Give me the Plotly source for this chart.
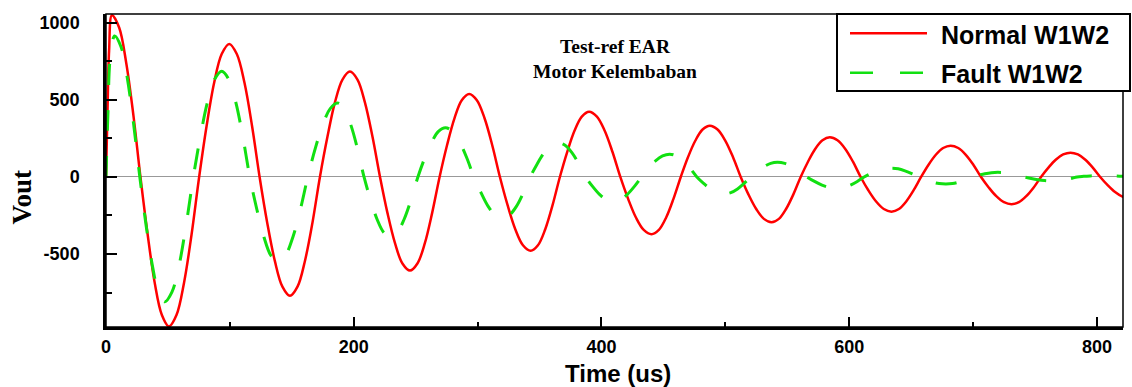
import plotly.graph_objects as go

# ---- data (time in us, Vout) ----
normal_t = [0, 1.2, 2.5, 4.8,
            10.6, 16.3, 22.1, 27.8, 33.6, 39.3, 45.1, 50.8,
            56.9, 63.0, 69.1, 75.2, 81.2, 87.3, 93.4, 99.5,
            105.6, 111.8, 117.9, 124.0, 130.1, 136.3, 142.4, 148.5,
            154.6, 160.6, 166.7, 172.7, 178.8, 184.8, 190.9, 196.9,
            203.0, 209.0, 215.1, 221.2, 227.2, 233.3, 239.3, 245.4,
            251.4, 257.4, 263.3, 269.3, 275.3, 281.3, 287.2, 293.2,
            299.4, 305.6, 311.8, 318.0, 324.2, 330.4, 336.6, 342.8,
            348.7, 354.6, 360.5, 366.4, 372.3, 378.2, 384.1, 390.0,
            396.3, 402.6, 408.9, 415.2, 421.5, 427.8, 434.1, 440.4,
            446.3, 452.2, 458.1, 464.0, 469.8, 475.7, 481.6, 487.5,
            493.7, 500.0, 506.2, 512.4, 518.6, 524.9, 531.1, 537.3,
            543.2, 549.0, 554.9, 560.8, 566.7, 572.5, 578.4, 584.3,
            590.5, 596.8, 603.0, 609.2, 615.4, 621.7, 627.9, 634.1,
            640.1, 646.0, 652.0, 658.0, 663.9, 669.9, 675.8, 681.8,
            688.0, 694.1, 700.3, 706.4, 712.6, 718.7, 724.9, 731.0,
            737.0, 742.9, 748.9, 754.8, 760.8, 766.7, 772.7, 778.6,
            784.6, 790.6, 796.6, 802.6, 808.6, 814.6, 820.6, 826.6]
normal_v = [0, 420, 820, 1050,
            970, 742, 402, 0, -372, -686, -896, -970,
            -896, -686, -372, 0, 331, 611, 798, 864,
            798, 611, 331, 0, -295, -545, -712, -771,
            -712, -545, -295, 0, 262, 484, 632, 684,
            632, 484, 262, 0, -233, -430, -562, -608,
            -562, -430, -233, 0, 206, 381, 498, 539,
            498, 381, 206, 0, -183, -339, -443, -479,
            -443, -339, -183, 0, 162, 300, 392, 424,
            392, 300, 162, 0, -142, -263, -344, -372,
            -344, -263, -142, 0, 128, 235, 308, 333,
            308, 235, 128, 0, -113, -208, -272, -294,
            -272, -208, -113, 0, 99, 182, 238, 258,
            238, 182, 99, 0, -86, -159, -208, -225,
            -208, -159, -86, 0, 78, 144, 188, 203,
            188, 144, 78, 0, -68, -125, -164, -177,
            -164, -125, -68, 0, 61, 112, 146, 158,
            146, 112, 61, 0, -53, -98, -128, -138]

fault_t = [0, 1.5, 3.5, 7.0,
           12.1, 17.1, 22.2, 27.3, 32.3, 37.4, 42.4, 47.5,
           53.2, 59.0, 64.7, 70.5, 76.2, 81.9, 87.7, 93.4,
           99.1, 104.8, 110.4, 116.1, 121.8, 127.5, 133.1, 138.8,
           144.8, 150.9, 156.9, 162.9, 168.9, 175.0, 181.0, 187.0,
           192.3, 197.6, 203.0, 208.3, 213.6, 218.9, 224.2, 229.5,
           235.1, 240.6, 246.2, 251.8, 257.3, 262.9, 268.4, 274.0,
           279.8, 285.5, 291.3, 297.0, 302.8, 308.5, 314.3, 320.0,
           325.6, 331.3, 336.9, 342.5, 348.1, 353.8, 359.4, 365.0,
           370.6, 376.1, 381.7, 387.3, 392.8, 398.4, 403.9, 409.5,
           415.2, 420.9, 426.6, 432.3, 437.9, 443.6, 449.3, 455.0,
           460.5, 466.0, 471.5, 477.0, 482.5, 488.0, 493.5, 499.0,
           504.4, 509.8, 515.1, 520.5, 525.9, 531.3, 536.6, 542.0,
           548.0, 554.0, 560.0, 566.0, 572.0, 578.0, 584.0, 590.0,
           595.5, 601.0, 606.5, 612.0, 617.5, 623.0, 628.5, 634.0,
           639.5, 645.0, 650.5, 656.0, 661.5, 667.0, 672.5, 678.0,
           683.3, 688.5, 693.8, 699.0, 704.3, 709.5, 714.8, 720.0,
           725.4, 730.8, 736.1, 741.5, 746.9, 752.3, 757.6, 763.0,
           768.3, 773.5, 778.8, 784.0, 789.3, 794.5, 799.8, 805.0,
           815.8, 826.5]
fault_v = [0, 400, 780, 915,
           845, 647, 350, 0, -310, -573, -748, -810,
           -748, -573, -310, 0, 263, 485, 634, 686,
           634, 485, 263, 0, -211, -390, -510, -552,
           -510, -390, -211, 0, 184, 339, 444, 480,
           444, 339, 184, 0, -149, -276, -360, -390,
           -360, -276, -149, 0, 123, 226, 296, 320,
           296, 226, 123, 0, -103, -191, -249, -270,
           -249, -191, -103, 0, 85, 158, 206, 223,
           206, 158, 85, 0, -61, -113, -148, -160,
           -148, -113, -61, 0, 57, 105, 137, 148,
           137, 105, 57, 0, -42, -78, -102, -110,
           -102, -78, -42, 0, 36, 67, 88, 95,
           88, 67, 36, 0, -29, -53, -69, -75,
           -69, -53, -29, 0, 22, 40, 53, 57,
           53, 40, 22, 0, -18, -33, -43, -46,
           -43, -33, -18, 0, 11, 21, 28, 30,
           28, 21, 11, 0, -10, -18, -23, -25,
           -23, -18, -10, 0, 4, 7, 9, 10,
           7, 2]

x_ticks = [0, 200, 400, 600, 800]
x_minor = [100, 300, 500, 700]
y_ticks = [-500, 0, 500, 1000]
y_tick_text = ["-500", "0", "500", "1000"]
y_minor = [-750, -250, 250, 750]

series_names = ["Normal W1W2", "Fault W1W2"]
title_lines = ["Test-ref EAR", "Motor Kelembaban"]
x_title = "Time (us)"
y_title = "Vout"

RED = "#ff0000"
GREEN = "#11e011"
SANS = "Liberation Sans, Arial, sans-serif"
SERIF = "Liberation Serif, Times New Roman, serif"

# plot area in pixels
W, H = 1132, 387
L, R, T, B = 106, 1123, 14, 327
PW, PH = R - L, B - T


def px(xp):
    return (xp - L) / PW


def py(yp):
    return (B - yp) / PH


fig = go.Figure()
fig.add_trace(go.Scatter(x=normal_t, y=normal_v, mode="lines", name=series_names[0],
                         line=dict(color=RED, width=2.5, shape="spline", smoothing=1),
                         showlegend=False))
fig.add_trace(go.Scatter(x=fault_t, y=fault_v, mode="lines", name=series_names[1],
                         line=dict(color=GREEN, width=3, shape="spline", smoothing=1,
                                   dash="21px,25px"),
                         showlegend=False))

tickfont = dict(family=SANS, size=18, color="black", weight="bold")

fig.update_layout(
    width=W, height=H,
    margin=dict(l=L, r=W - R, t=T, b=H - B, pad=0, autoexpand=False),
    paper_bgcolor="white", plot_bgcolor="white",
    title=dict(text="<br>".join(title_lines), x=615 / W, xanchor="center",
               y=1 - 52.5 / H, yanchor="middle", automargin=False,
               font=dict(family=SERIF, size=19.5, color="black", weight="bold")),
    # main axes: labels + inner half of the crossing ticks
    xaxis=dict(range=[0, 821], showgrid=False, zeroline=False, automargin=False,
               showline=True, linecolor="black", linewidth=2.5,
               tickmode="array", tickvals=x_ticks, ticks="inside", ticklen=10,
               tickwidth=2, tickcolor="black", tickfont=tickfont, ticklabelstandoff=2,
               minor=dict(tickvals=x_minor, ticks="inside", ticklen=5, tickwidth=2,
                          tickcolor="black", showgrid=False)),
    # overlay axes: outer half of the crossing ticks
    xaxis2=dict(range=[0, 821], overlaying="x", anchor="y", side="bottom",
                automargin=False,
                showgrid=False, zeroline=False, showline=False, showticklabels=False,
                tickmode="array", tickvals=x_ticks, ticks="outside", ticklen=10,
                tickwidth=2, tickcolor="black",
                minor=dict(tickvals=x_minor, ticks="outside", ticklen=5, tickwidth=2,
                           tickcolor="black", showgrid=False)),
    yaxis=dict(range=[-974, 1058], showgrid=False, zeroline=True, automargin=False,
               zerolinecolor="#999999", zerolinewidth=1,
               showline=True, linecolor="black", linewidth=2.5,
               tickmode="array", tickvals=y_ticks, ticktext=y_tick_text,
               ticks="inside", ticklen=11, tickwidth=2, tickcolor="black",
               tickfont=tickfont, ticklabelstandoff=20,
               minor=dict(tickvals=y_minor, ticks="inside", ticklen=6, tickwidth=2,
                          tickcolor="black", showgrid=False)),
    yaxis2=dict(range=[-974, 1058], overlaying="y", anchor="x", side="left",
                automargin=False,
                showgrid=False, zeroline=False, showline=False, showticklabels=False,
                tickmode="array", tickvals=y_ticks, ticks="outside", ticklen=11,
                tickwidth=2, tickcolor="black",
                minor=dict(tickvals=y_minor, ticks="outside", ticklen=6, tickwidth=2,
                           tickcolor="black", showgrid=False)),
)

# frame (top / right)
fig.add_shape(type="rect", xref="paper", yref="paper", x0=0, x1=1, y0=0, y1=1,
              line=dict(color="black", width=1.5), layer="above")

# legend box
fig.add_shape(type="rect", xref="paper", yref="paper",
              x0=px(837), x1=px(1130), y0=py(91), y1=py(14),
              line=dict(color="black", width=2), fillcolor="white", layer="above")
fig.add_shape(type="line", xref="paper", yref="paper",
              x0=px(850), x1=px(927), y0=py(33.3), y1=py(33.3),
              line=dict(color=RED, width=2.5), layer="above")
fig.add_shape(type="line", xref="paper", yref="paper",
              x0=px(850), x1=px(926), y0=py(72.7), y1=py(72.7),
              line=dict(color=GREEN, width=2.5, dash="23px,27px"), layer="above")
for name, yc in zip(series_names, [35.0, 73.5]):
    fig.add_annotation(text=name, xref="paper", yref="paper", x=px(939), y=py(yc),
                       xanchor="left", yanchor="middle", showarrow=False,
                       font=dict(family=SANS, size=25, color="black", weight="bold"))

# axis titles
fig.add_annotation(text=y_title, xref="paper", yref="paper", x=px(21), y=py(197.5),
                   xanchor="center", yanchor="middle", textangle=-90, showarrow=False,
                   font=dict(family=SERIF, size=27, color="black", weight="bold"))
fig.add_annotation(text=x_title, xref="paper", yref="paper", x=px(617.5), y=py(373),
                   xanchor="center", yanchor="middle", showarrow=False,
                   font=dict(family=SANS, size=24, color="black", weight="bold"))

fig.write_html("out.html", config={"displayModeBar": False},
               post_script="document.body.style.margin='0';document.body.style.padding='0';")
